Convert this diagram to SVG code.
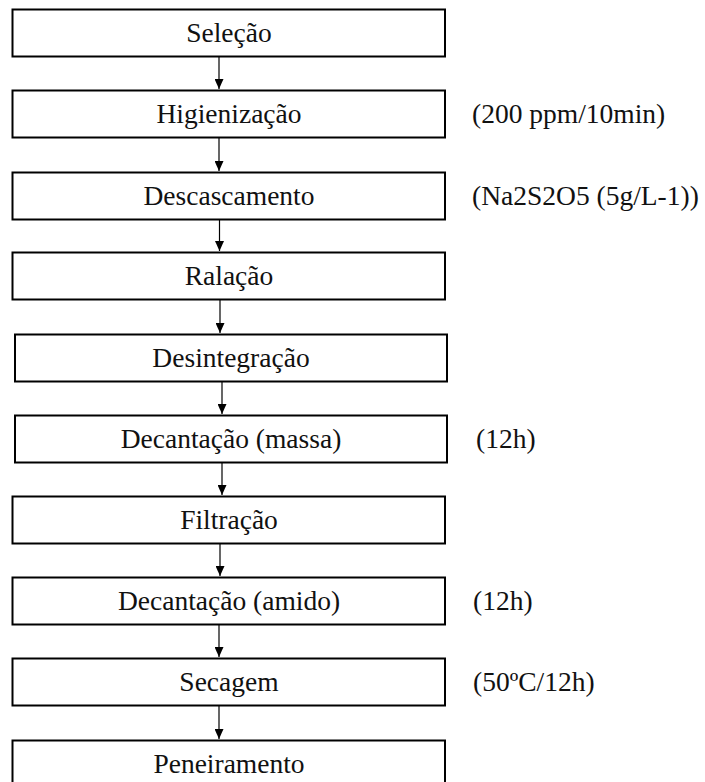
<svg xmlns="http://www.w3.org/2000/svg" width="705" height="782" viewBox="0 0 705 782">
<style>
.box{fill:#fff;stroke:#000;stroke-width:2}
.t{font-family:"Liberation Serif","Times New Roman",serif;font-size:27.5px;fill:#111}
.c{text-anchor:middle}
.ln{stroke:#000;stroke-width:1.2;fill:none}
</style>
<defs>
<marker id="ah" markerWidth="10" markerHeight="9" refX="10" refY="4.5" orient="auto" markerUnits="userSpaceOnUse">
<path d="M0,0 L10,4.5 L0,9 Z" fill="#000"/>
</marker>
</defs>
<rect width="705" height="782" fill="#fff"/>
<g id="connectors">
<line class="ln" x1="219" y1="57" x2="219" y2="89" marker-end="url(#ah)"/>
<line class="ln" x1="219" y1="138" x2="219" y2="171" marker-end="url(#ah)"/>
<line class="ln" x1="219.5" y1="220" x2="219.5" y2="251" marker-end="url(#ah)"/>
<line class="ln" x1="220" y1="300" x2="220" y2="333" marker-end="url(#ah)"/>
<line class="ln" x1="222" y1="382" x2="222" y2="414" marker-end="url(#ah)"/>
<line class="ln" x1="222" y1="463" x2="222" y2="495" marker-end="url(#ah)"/>
<line class="ln" x1="220" y1="544" x2="220" y2="576" marker-end="url(#ah)"/>
<line class="ln" x1="219" y1="625" x2="219" y2="657" marker-end="url(#ah)"/>
<line class="ln" x1="219" y1="706" x2="219" y2="739" marker-end="url(#ah)"/>
</g>
<g id="n1"><rect class="box" x="12.5" y="9.5" width="432.5" height="47"/><text class="t c" x="229" y="42">Seleção</text></g>
<g id="n2"><rect class="box" x="12.5" y="90.5" width="432.5" height="47"/><text class="t c" x="229" y="123">Higienização</text></g>
<g id="n3"><rect class="box" x="12.5" y="172.5" width="432.5" height="47"/><text class="t c" x="229" y="205">Descascamento</text></g>
<g id="n4"><rect class="box" x="12.5" y="252.5" width="432.5" height="47"/><text class="t c" x="229" y="285">Ralação</text></g>
<g id="n5"><rect class="box" x="15" y="334.5" width="432" height="47"/><text class="t c" x="231" y="367">Desintegração</text></g>
<g id="n6"><rect class="box" x="15" y="415.5" width="432" height="47"/><text class="t c" x="231" y="448">Decantação (massa)</text></g>
<g id="n7"><rect class="box" x="12.5" y="496.5" width="432.5" height="47"/><text class="t c" x="229" y="529">Filtração</text></g>
<g id="n8"><rect class="box" x="12.5" y="577.5" width="432.5" height="47"/><text class="t c" x="229" y="610">Decantação (amido)</text></g>
<g id="n9"><rect class="box" x="12.5" y="658.5" width="432.5" height="47"/><text class="t c" x="229" y="691">Secagem</text></g>
<g id="n10"><rect class="box" x="12.5" y="740.5" width="432.5" height="47"/><text class="t c" x="229" y="773">Peneiramento</text></g>
<g id="labels">
<text class="t" x="472" y="123">(200 ppm/10min)</text>
<text class="t" x="472" y="205">(Na2S2O5 (5g/L-1))</text>
<text class="t" x="476" y="448">(12h)</text>
<text class="t" x="473" y="610">(12h)</text>
<text class="t" x="473" y="691">(50ºC/12h)</text>
</g>
</svg>
